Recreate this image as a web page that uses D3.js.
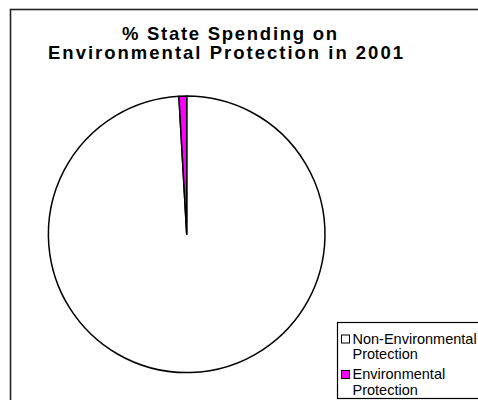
<!DOCTYPE html>
<html>
<head>
<meta charset="utf-8">
<script src="https://cdnjs.cloudflare.com/ajax/libs/d3/7.8.5/d3.min.js"></script>
<style>
  body { margin: 0; background: #fff; }
  svg { display: block; font-family: "Liberation Sans", Arial, sans-serif; }
</style>
</head>
<body>
<div id="chart"></div>
<script>
// chart data
const categories = ["Non-Environmental Protection", "Environmental Protection"];
const values = [99.1, 0.9];
const colors = ["#ffffff", "#ff00ff"];
const legendLines = [["Non-Environmental", "Protection"], ["Environmental", "Protection"]];
const titleLines = ["% State Spending on", "Environmental Protection in 2001"];

const width = 478, height = 400;

const svg = d3.select("#chart")
    .append("svg")
    .attr("width", width)
    .attr("height", height);

// outer chart frame (runs off the right and bottom edges)
svg.append("rect")
    .attr("x", 10.5)
    .attr("y", 9.5)
    .attr("width", 500)
    .attr("height", 420)
    .style("fill", "#fff")
    .style("stroke", "#222")
    .style("stroke-width", 1.6);

// title
const titleSpec = [{cx: 229.5, y: 39.5, w: 215}, {cx: 225.5, y: 59, w: 355}];
svg.append("g")
    .selectAll("text")
    .data(titleLines)
    .enter()
    .append("text")
    .attr("x", (d, i) => titleSpec[i].cx)
    .attr("y", (d, i) => titleSpec[i].y)
    .attr("text-anchor", "middle")
    .attr("textLength", (d, i) => titleSpec[i].w)
    .attr("lengthAdjust", "spacing")
    .style("font-size", "18.5px")
    .style("font-weight", "bold")
    .style("fill", "#000")
    .text(d => d);

// pie
const radius = 138.3;
const pie = d3.pie().sort(null).value(d => d);
const arc = d3.arc().innerRadius(0).outerRadius(radius);

const g = svg.append("g")
    .attr("transform", "translate(" + 186.7 + "," + 234.3 + ")");

g.selectAll("path")
    .data(pie(values))
    .enter()
    .append("path")
    .attr("d", arc)
    .style("fill", (d, i) => colors[i])
    .style("stroke", "#000")
    .style("stroke-width", 1.5)
    .style("stroke-linejoin", "round");

// legend
const legend = svg.append("g");
legend.append("rect")
    .attr("x", 337.5)
    .attr("y", 322.5)
    .attr("width", 200)
    .attr("height", 76)
    .style("fill", "#fff")
    .style("stroke", "#000")
    .style("stroke-width", 1.2);

const entry = legend.selectAll("g.entry")
    .data(categories)
    .enter()
    .append("g")
    .attr("class", "entry")
    .attr("transform", (d, i) => "translate(0," + (i * 35.5) + ")");

entry.append("rect")
    .attr("x", 341.5)
    .attr("y", 335)
    .attr("width", 8)
    .attr("height", 8)
    .style("fill", (d, i) => colors[i])
    .style("stroke", "#000")
    .style("stroke-width", 1);

entry.each(function (d, i) {
    d3.select(this).selectAll("text")
        .data(legendLines[i])
        .enter()
        .append("text")
        .attr("x", 352.5)
        .attr("y", (t, j) => 343.5 + j * 15.5)
        .style("font-size", "14.5px")
        .style("fill", "#000")
        .text(t => t);
});
</script>
</body>
</html>
